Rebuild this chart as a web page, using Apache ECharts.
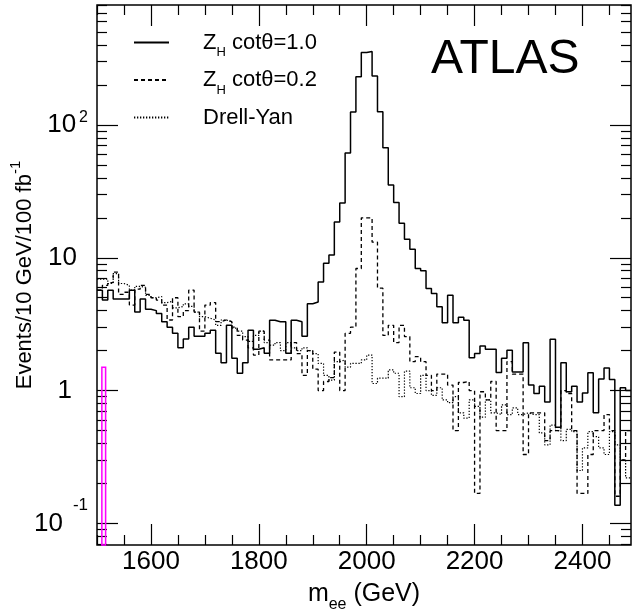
<!DOCTYPE html>
<html>
<head>
<meta charset="utf-8">
<script src="https://cdn.jsdelivr.net/npm/echarts@6/dist/echarts.min.js"></script>
<style>
html,body{margin:0;padding:0;background:#fff;}
#chart{width:633px;height:613px;}
</style>
</head>
<body>
<div id="chart"></div>
<script>
// ---- data (10 GeV bins starting at 1500 GeV) ----
const binStart = 1500;
const binWidth = 10;
const zh10 = [5.7,4.8,5.7,4.9,4.9,4.9,5.7,3.9,4.9,4.1,4.0,3.8,3.3,3.0,2.7,2.1,2.45,3.0,2.57,2.57,
  2.7,2.85,1.91,1.62,3.1,1.75,1.35,1.62,2.85,2.05,2.1,1.91,3.39,3.3,3.3,1.91,3.39,3.3,2.57,4.5,
  4.64,6.56,9.1,10.5,18.6,25.8,61.5,125,231,351,357,234,126,67.5,35.3,26.1,18.2,13.8,11.6,8.3,
  7.97,5.87,5.39,4.27,3.24,5.23,3.24,3.57,3.39,1.77,1.9,2.17,2.05,2.05,1.37,1.75,2.01,1.38,1.38,2.29,
  1.10,0.95,1.08,0.82,2.43,0.53,1.62,0.98,1.08,0.82,0.96,1.36,0.68,1.22,1.48,1.21,0.137,1.05,1.0];
const zh02 = [5.7,6.2,6.5,7.8,5.3,5.5,4.4,5.8,6.2,5.3,5.0,4.8,4.4,3.4,5.0,3.6,4.0,5.7,3.9,2.8,
  4.4,4.6,3.3,3.4,3.3,3.0,2.6,2.4,2.1,1.85,2.8,2.4,1.7,1.7,1.7,1.7,2.3,1.9,1.3,2.0,
  1.45,1.0,1.17,1.25,1.95,1.0,2.7,3.0,8.3,20,20,13.1,5.9,2.6,3.1,2.3,3.1,2.55,1.65,1.8,
  1.65,1.3,1.0,1.33,1.33,1.1,0.5,1.15,1.17,1.0,0.168,0.98,0.85,1.17,0.5,0.5,1.65,1.33,1.33,0.33,
  0.68,0.68,0.68,0.42,0.5,0.5,1.0,0.95,0.5,0.168,0.168,0.33,0.5,0.5,0.66,0.5,0.16,0.3,0.5];
const drellYan = [6.9,6.9,6.4,7.6,6.4,6.2,5.7,6.1,6.0,5.2,5.0,5.1,4.6,4.7,4.2,4.3,4.5,4.3,3.9,3.6,
  3.5,3.4,3.1,3.4,3.3,2.95,2.8,2.55,2.35,2.6,2.8,2.3,2.2,2.3,2.0,2.3,2.1,2.0,2.1,2.0,
  1.9,1.6,1.3,1.2,1.65,1.7,1.5,1.6,1.6,1.7,1.85,1.13,1.24,1.24,1.43,1.35,0.9,1.4,1.05,0.95,
  1.3,1.0,0.92,1.05,0.85,0.81,0.9,0.68,0.62,0.85,0.76,0.63,0.85,0.68,0.66,0.78,0.66,0.74,0.66,0.68,
  0.66,0.66,0.48,0.39,0.55,0.5,0.42,0.51,0.49,0.25,0.37,0.49,0.45,0.37,0.33,0.49,0.39,0.3,0.22];
const magentaBar = [1509, 1516, 1.5]; // x from, x to, height
const legendLabels = [['Z','H',' cotθ=1.0'], ['Z','H',' cotθ=0.2'], ['Drell-Yan','','']];
const xRange = [1500, 2490];
const yRange = [0.0687, 801];
const xMajorTicks = [1600, 1800, 2000, 2200, 2400];
const xMinorTicks = [1500,1550,1650,1700,1750,1850,1900,1950,2050,2100,2150,2250,2300,2350,2450];
const yMajorTicks = [0.1, 1, 10, 100];
const yTickLabels = [['10','-1'], ['1',''], ['10',''], ['10','2']];
const yMinorTicks = [0.07,0.08,0.09,0.2,0.3,0.4,0.5,0.6,0.7,0.8,0.9,2,3,4,5,6,7,8,9,
  20,30,40,50,60,70,80,90,200,300,400,500,600,700,800];

// ---- build ----
const FONT = "'Liberation Sans', Arial, Helvetica, sans-serif";
const lg = v => Math.log10(v);
const yMin = lg(yRange[0]), yMax = lg(yRange[1]);
function histPoints(vals) {
  const pts = vals.map((v, i) => [binStart + i * binWidth, lg(v)]);
  pts.push([binStart + vals.length * binWidth, lg(vals[vals.length - 1])]);
  return pts;
}
const names = legendLabels.map(l => l.join(''));
const tickStyle = { color: '#000', width: 1.2 };

function xAxisDef(pos, ticks, len, withLabels) {
  const a = {
    type: 'value', position: pos, min: xRange[0], max: xRange[1],
    axisLine: { show: false, onZero: false },
    splitLine: { show: false },
    axisTick: { show: true, inside: true, length: len, customValues: ticks, lineStyle: tickStyle },
    axisLabel: { show: withLabels, customValues: ticks, margin: 4,
      color: '#000', fontSize: 26, fontFamily: FONT, formatter: v => String(Math.round(v)) }
  };
  if (withLabels) {
    a.name = '{m|m}{s|ee}{m| (GeV)}';
    a.nameLocation = 'middle';
    a.nameGap = 31;
    a.nameMoveOverlap = false;
    a.nameTextStyle = { color: '#000', fontFamily: FONT, fontSize: 25,
      rich: { m: { fontSize: 25, lineHeight: 37, fontFamily: FONT, color: '#000' },
              s: { fontSize: 16, verticalAlign: 'bottom', fontFamily: FONT, color: '#000' } } };
  }
  return a;
}
function yAxisDef(pos, ticks, len, withLabels) {
  const vals = ticks.map(lg);
  const a = {
    type: 'value', position: pos, min: yMin, max: yMax,
    axisLine: { show: false, onZero: false },
    splitLine: { show: false },
    axisTick: { show: true, inside: true, length: len, customValues: vals, lineStyle: tickStyle },
    axisLabel: { show: withLabels, customValues: vals, margin: 9, color: '#000',
      fontSize: 26, fontFamily: FONT,
      formatter: function (v) {
        const i = yMajorTicks.findIndex(t => Math.abs(lg(t) - v) < 1e-6);
        if (i < 0) return '';
        const [b, e] = yTickLabels[i];
        if (e === '-1') return '{bm|' + b + '}{sm|' + e + '}';
        if (e) return '{b2|' + b + '}{s2|' + e + '}';
        return (b === '1' ? '{p1|' : '{p10|') + b + '}';
      },
      rich: {
        b2: { fontSize: 26, lineHeight: 30, fontFamily: FONT, color: '#000' },
        bm: { fontSize: 26, lineHeight: 54, fontFamily: FONT, color: '#000' },
        s2: { fontSize: 16, verticalAlign: 'top', padding: [0, 0, 0, 3], fontFamily: FONT, color: '#000' },
        sm: { fontSize: 17, verticalAlign: 'top', padding: [0, 0, 0, 10], fontFamily: FONT, color: '#000' },
        p10: { fontSize: 26, padding: [0, 11, 0, 0], fontFamily: FONT, color: '#000' },
        p1: { fontSize: 26, padding: [0, 16, 0, 0], fontFamily: FONT, color: '#000' }
      }
    }
  };
  if (withLabels) {
    a.name = '{m|Events/10 GeV/100 fb}{s|-1}';
    a.nameLocation = 'middle';
    a.nameGap = 55;
    a.nameMoveOverlap = false;
    a.nameTextStyle = { color: '#000', fontFamily: FONT, fontSize: 22,
      rich: { m: { fontSize: 22, lineHeight: 34, fontFamily: FONT, color: '#000' },
              s: { fontSize: 15, verticalAlign: 'top', fontFamily: FONT, color: '#000' } } };
  }
  return a;
}

const chart = echarts.init(document.getElementById('chart'), null, { renderer: 'canvas' });
chart.setOption({
  animation: false,
  backgroundColor: '#fff',
  title: { text: 'ATLAS', left: 431, top: 36, padding: 0,
    textStyle: { fontSize: 48, fontWeight: 'normal', color: '#000', fontFamily: FONT } },
  grid: { left: 97, right: 2, top: 5, bottom: 68, show: true, borderColor: '#000', borderWidth: 1.5,
    backgroundColor: 'transparent', containLabel: false, outerBoundsMode: 'none' },
  legend: {
    data: names, orient: 'vertical', left: 133, top: 31.5, padding: 0,
    itemWidth: 35, itemHeight: 14, itemGap: 10, selectedMode: false,
    itemStyle: { opacity: 0 },
    formatter: function (name) {
      const l = legendLabels[names.indexOf(name)];
      return '{m|' + l[0] + '}' + (l[1] ? '{s|' + l[1] + '}' : '') + (l[2] ? '{m|' + l[2] + '}' : '');
    },
    textStyle: { color: '#000', fontFamily: FONT, fontSize: 22, padding: [0, 0, 0, 29],
      rich: { m: { fontSize: 22, lineHeight: 33, fontFamily: FONT, color: '#000' },
              s: { fontSize: 13, verticalAlign: 'bottom', fontFamily: FONT, color: '#000' } } }
  },
  xAxis: [
    xAxisDef('bottom', xMajorTicks, 21, true),
    xAxisDef('bottom', xMinorTicks, 10, false),
    xAxisDef('top', xMajorTicks, 21, false),
    xAxisDef('top', xMinorTicks, 10, false)
  ],
  yAxis: [
    yAxisDef('left', yMajorTicks, 21, true),
    yAxisDef('left', yMinorTicks, 10, false),
    yAxisDef('right', yMajorTicks, 21, false),
    yAxisDef('right', yMinorTicks, 10, false)
  ],
  series: [
    { name: names[0], type: 'line', step: 'end', symbol: 'none', data: histPoints(zh10),
      xAxisIndex: 0, yAxisIndex: 0, clip: true,
      lineStyle: { color: '#000', width: 1.5, type: 'solid' }, itemStyle: { color: '#000' } },
    { name: names[1], type: 'line', step: 'end', symbol: 'none', data: histPoints(zh02),
      xAxisIndex: 0, yAxisIndex: 0, clip: true,
      lineStyle: { color: '#000', width: 1.3, type: [4, 3] }, itemStyle: { color: '#000' } },
    { name: names[2], type: 'line', step: 'end', symbol: 'none', data: histPoints(drellYan),
      xAxisIndex: 0, yAxisIndex: 0, clip: true,
      lineStyle: { color: '#000', width: 1.2, type: [1.3, 1.7] }, itemStyle: { color: '#000' } },
    { name: 'marker', type: 'custom', xAxisIndex: 0, yAxisIndex: 0,
      data: [[magentaBar[0], magentaBar[1], lg(magentaBar[2])]],
      encode: { x: [0, 1], y: 2 },
      renderItem: function (params, api) {
        const p0 = api.coord([api.value(0), api.value(2)]);
        const p1 = api.coord([api.value(1), yMin]);
        return { type: 'rect',
          shape: { x: p0[0], y: p0[1], width: p1[0] - p0[0], height: p1[1] - p0[1] },
          style: { fill: 'rgba(255,0,255,0.06)', stroke: '#ff00ff', lineWidth: 1.5 } };
      }
    }
  ]
});
</script>
</body>
</html>
